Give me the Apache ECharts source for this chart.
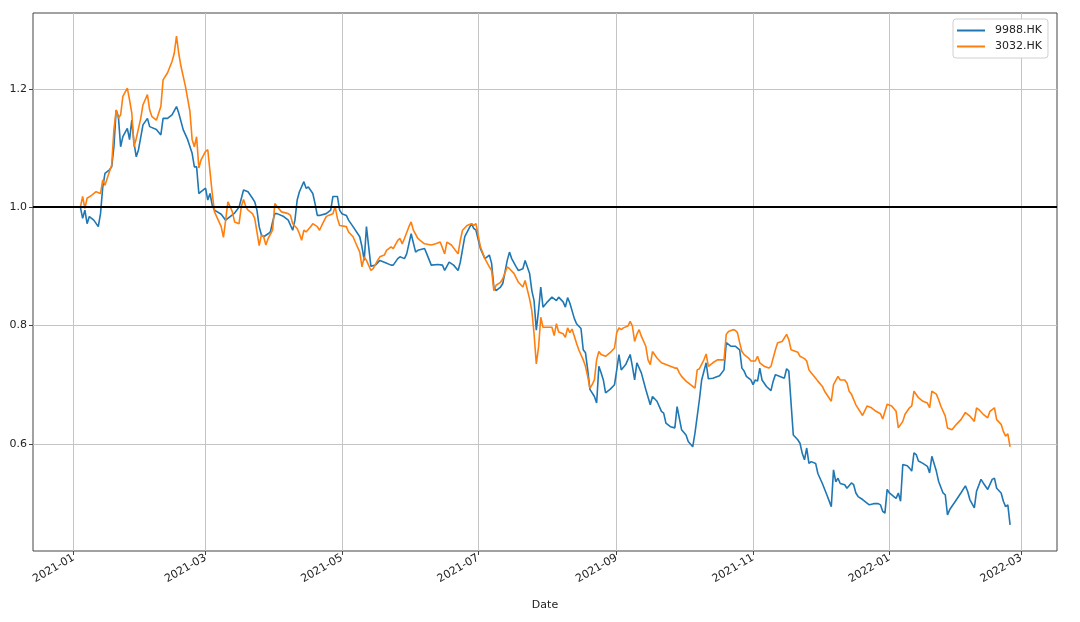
<!DOCTYPE html>
<html><head><meta charset="utf-8">
<script src="https://cdn.jsdelivr.net/npm/echarts@6/dist/echarts.min.js"></script>
<style>html,body{margin:0;padding:0;background:#fff}#c{width:1080px;height:622px}</style>
</head><body><div id="c"></div>
<script>
const seriesNames = ['9988.HK', '3032.HK'];
const xAxisName = 'Date';

const dates9988 = [
'2021-01-04','2021-01-05','2021-01-06','2021-01-07','2021-01-08','2021-01-10','2021-01-12','2021-01-13','2021-01-14','2021-01-15',
'2021-01-17','2021-01-18','2021-01-19','2021-01-20','2021-01-21','2021-01-22','2021-01-23','2021-01-25','2021-01-26','2021-01-27',
'2021-01-28','2021-01-29','2021-01-30','2021-02-01','2021-02-03','2021-02-04','2021-02-07','2021-02-09','2021-02-10','2021-02-12',
'2021-02-14','2021-02-16','2021-02-17','2021-02-19','2021-02-21','2021-02-23','2021-02-24','2021-02-25','2021-02-26','2021-02-27',
'2021-03-01','2021-03-02','2021-03-03','2021-03-04','2021-03-05','2021-03-08','2021-03-10','2021-03-12','2021-03-14','2021-03-16',
'2021-03-18','2021-03-20','2021-03-22','2021-03-23','2021-03-24','2021-03-25','2021-03-26','2021-03-27','2021-03-29','2021-03-30',
'2021-03-31','2021-04-01','2021-04-02','2021-04-05','2021-04-07','2021-04-09','2021-04-10','2021-04-11','2021-04-12','2021-04-14',
'2021-04-15','2021-04-16','2021-04-18','2021-04-19','2021-04-20','2021-04-21','2021-04-24','2021-04-26','2021-04-27','2021-04-29',
'2021-04-30','2021-05-01','2021-05-03','2021-05-04','2021-05-06','2021-05-09','2021-05-10','2021-05-11','2021-05-12','2021-05-13',
'2021-05-14','2021-05-16','2021-05-18','2021-05-20','2021-05-23','2021-05-24','2021-05-26','2021-05-27','2021-05-29','2021-05-30',
'2021-06-01','2021-06-03','2021-06-04','2021-06-07','2021-06-08','2021-06-10','2021-06-13','2021-06-15','2021-06-16','2021-06-18',
'2021-06-20','2021-06-22','2021-06-23','2021-06-25','2021-06-28','2021-06-29','2021-06-30','2021-07-02','2021-07-04','2021-07-06',
'2021-07-07','2021-07-08','2021-07-09','2021-07-11','2021-07-12','2021-07-14','2021-07-15','2021-07-16','2021-07-18','2021-07-19',
'2021-07-21','2021-07-22','2021-07-24','2021-07-25','2021-07-26','2021-07-27','2021-07-28','2021-07-29','2021-07-30','2021-08-01',
'2021-08-03','2021-08-05','2021-08-06','2021-08-08','2021-08-09','2021-08-10','2021-08-11','2021-08-13','2021-08-14','2021-08-16',
'2021-08-17','2021-08-18','2021-08-19','2021-08-20','2021-08-22','2021-08-23','2021-08-24','2021-08-25','2021-08-26','2021-08-27',
'2021-08-29','2021-08-31','2021-09-01','2021-09-02','2021-09-03','2021-09-05','2021-09-07','2021-09-08','2021-09-09','2021-09-10',
'2021-09-12','2021-09-14','2021-09-16','2021-09-17','2021-09-19','2021-09-21','2021-09-22','2021-09-23','2021-09-25','2021-09-27',
'2021-09-28','2021-09-30','2021-10-02','2021-10-03','2021-10-05','2021-10-06','2021-10-08','2021-10-09','2021-10-11','2021-10-12',
'2021-10-14','2021-10-17','2021-10-19','2021-10-20','2021-10-22','2021-10-24','2021-10-26','2021-10-27','2021-10-28','2021-10-29',
'2021-10-31','2021-11-01','2021-11-02','2021-11-03','2021-11-04','2021-11-05','2021-11-07','2021-11-09','2021-11-10','2021-11-11',
'2021-11-13','2021-11-15','2021-11-16','2021-11-17','2021-11-19','2021-11-21','2021-11-22','2021-11-23','2021-11-24','2021-11-25',
'2021-11-26','2021-11-27','2021-11-29','2021-11-30','2021-12-02','2021-12-04','2021-12-06','2021-12-07','2021-12-08','2021-12-09',
'2021-12-10','2021-12-12','2021-12-13','2021-12-15','2021-12-16','2021-12-17','2021-12-18','2021-12-20','2021-12-21','2021-12-23',
'2021-12-25','2021-12-27','2021-12-28','2021-12-29','2021-12-30','2021-12-31','2022-01-01','2022-01-03','2022-01-04','2022-01-05',
'2022-01-06','2022-01-07','2022-01-09','2022-01-10','2022-01-11','2022-01-12','2022-01-13','2022-01-14','2022-01-16','2022-01-18',
'2022-01-19','2022-01-20','2022-01-22','2022-01-23','2022-01-25','2022-01-26','2022-01-27','2022-01-28','2022-01-30','2022-02-02',
'2022-02-04','2022-02-05','2022-02-06','2022-02-08','2022-02-09','2022-02-11','2022-02-12','2022-02-14','2022-02-16','2022-02-17',
'2022-02-18','2022-02-20','2022-02-21','2022-02-22','2022-02-23','2022-02-24'
];
const vals9988 = [
1.000,0.981,0.995,0.972,0.984,0.978,0.967,0.989,1.034,1.057,
1.063,1.068,1.102,1.164,1.153,1.102,1.119,1.133,1.114,1.147,
1.108,1.085,1.097,1.139,1.150,1.136,1.131,1.122,1.150,1.150,
1.156,1.170,1.159,1.131,1.114,1.091,1.068,1.068,1.023,1.026,
1.032,1.012,1.023,1.003,0.995,0.988,0.978,0.984,0.990,1.000,
1.029,1.026,1.015,1.009,0.995,0.967,0.953,0.950,0.955,0.958,
0.975,0.989,0.989,0.984,0.978,0.961,0.978,1.012,1.026,1.043,
1.032,1.034,1.023,1.006,0.986,0.986,0.989,0.995,1.018,1.018,
0.995,0.989,0.986,0.978,0.967,0.950,0.933,0.910,0.967,0.933,
0.900,0.902,0.910,0.907,0.902,0.902,0.913,0.916,0.913,0.921,
0.955,0.924,0.927,0.930,0.921,0.902,0.903,0.902,0.893,0.907,
0.902,0.893,0.907,0.950,0.972,0.964,0.961,0.930,0.913,0.919,
0.905,0.865,0.859,0.865,0.871,0.910,0.924,0.913,0.899,0.893,
0.896,0.910,0.888,0.859,0.842,0.792,0.825,0.865,0.831,0.840,
0.848,0.842,0.848,0.840,0.831,0.847,0.838,0.812,0.803,0.795,
0.759,0.754,0.725,0.692,0.680,0.669,0.731,0.720,0.708,0.686,
0.692,0.700,0.725,0.751,0.725,0.734,0.751,0.731,0.708,0.737,
0.720,0.692,0.666,0.680,0.672,0.655,0.652,0.635,0.629,0.627,
0.663,0.624,0.615,0.604,0.595,0.618,0.675,0.708,0.737,0.710,
0.711,0.715,0.725,0.771,0.765,0.765,0.759,0.728,0.723,0.714,
0.708,0.700,0.708,0.706,0.728,0.708,0.697,0.690,0.706,0.717,
0.714,0.711,0.727,0.723,0.615,0.607,0.601,0.584,0.573,0.593,
0.567,0.570,0.567,0.550,0.533,0.514,0.494,0.556,0.536,0.542,
0.533,0.531,0.525,0.534,0.531,0.517,0.511,0.506,0.503,0.497,
0.499,0.499,0.497,0.486,0.483,0.523,0.517,0.511,0.508,0.517,
0.503,0.565,0.563,0.559,0.554,0.585,0.582,0.571,0.567,0.562,
0.551,0.579,0.554,0.537,0.517,0.514,0.480,0.489,0.500,0.517,
0.529,0.520,0.506,0.492,0.520,0.540,0.534,0.523,0.540,0.542,
0.525,0.517,0.503,0.494,0.497,0.463
];

const dates3032 = [
'2021-01-04','2021-01-05','2021-01-06','2021-01-07','2021-01-09','2021-01-11','2021-01-13','2021-01-14','2021-01-15','2021-01-17',
'2021-01-18','2021-01-19','2021-01-20','2021-01-21','2021-01-22','2021-01-23','2021-01-25','2021-01-26','2021-01-27','2021-01-28',
'2021-01-29','2021-01-31','2021-02-01','2021-02-03','2021-02-04','2021-02-05','2021-02-07','2021-02-09','2021-02-10','2021-02-12',
'2021-02-14','2021-02-15','2021-02-16','2021-02-17','2021-02-18','2021-02-20','2021-02-22','2021-02-23','2021-02-24','2021-02-25',
'2021-02-26','2021-02-27','2021-03-01','2021-03-02','2021-03-03','2021-03-04','2021-03-05','2021-03-08','2021-03-09','2021-03-10',
'2021-03-11','2021-03-12','2021-03-13','2021-03-14','2021-03-16','2021-03-17','2021-03-18','2021-03-19','2021-03-20','2021-03-22',
'2021-03-23','2021-03-25','2021-03-26','2021-03-27','2021-03-28','2021-03-29','2021-03-31','2021-04-01','2021-04-02','2021-04-04',
'2021-04-07','2021-04-08','2021-04-09','2021-04-11','2021-04-12','2021-04-13','2021-04-14','2021-04-15','2021-04-17','2021-04-18',
'2021-04-20','2021-04-21','2021-04-22','2021-04-24','2021-04-25','2021-04-27','2021-04-28','2021-04-29','2021-04-30','2021-05-03',
'2021-05-04','2021-05-06','2021-05-07','2021-05-09','2021-05-10','2021-05-11','2021-05-12','2021-05-14','2021-05-15','2021-05-17',
'2021-05-18','2021-05-20','2021-05-21','2021-05-23','2021-05-24','2021-05-26','2021-05-27','2021-05-28','2021-05-29','2021-05-31',
'2021-06-01','2021-06-02','2021-06-04','2021-06-05','2021-06-07','2021-06-10','2021-06-12','2021-06-14','2021-06-16','2021-06-17',
'2021-06-19','2021-06-22','2021-06-23','2021-06-24','2021-06-26','2021-06-28','2021-06-29','2021-06-30','2021-07-02','2021-07-04',
'2021-07-06','2021-07-07','2021-07-08','2021-07-09','2021-07-11','2021-07-12','2021-07-14','2021-07-15','2021-07-17','2021-07-19',
'2021-07-21','2021-07-22','2021-07-24','2021-07-25','2021-07-26','2021-07-27','2021-07-28','2021-07-29','2021-07-30','2021-08-01',
'2021-08-03','2021-08-04','2021-08-05','2021-08-06','2021-08-08','2021-08-09','2021-08-10','2021-08-11','2021-08-12','2021-08-14',
'2021-08-15','2021-08-17','2021-08-18','2021-08-19','2021-08-20','2021-08-21','2021-08-22','2021-08-23','2021-08-24','2021-08-25',
'2021-08-27','2021-08-29','2021-08-31','2021-09-01','2021-09-02','2021-09-03','2021-09-04','2021-09-06','2021-09-07','2021-09-08',
'2021-09-09','2021-09-10','2021-09-11','2021-09-12','2021-09-14','2021-09-15','2021-09-16','2021-09-17','2021-09-19','2021-09-21',
'2021-09-23','2021-09-25','2021-09-27','2021-09-28','2021-09-29','2021-09-30','2021-10-02','2021-10-04','2021-10-06','2021-10-07',
'2021-10-08','2021-10-10','2021-10-11','2021-10-12','2021-10-14','2021-10-16','2021-10-19','2021-10-20','2021-10-21','2021-10-23',
'2021-10-24','2021-10-25','2021-10-26','2021-10-27','2021-10-28','2021-10-30','2021-10-31','2021-11-02','2021-11-03','2021-11-04',
'2021-11-06','2021-11-08','2021-11-09','2021-11-11','2021-11-12','2021-11-14','2021-11-16','2021-11-17','2021-11-18','2021-11-21',
'2021-11-22','2021-11-24','2021-11-25','2021-11-26','2021-11-27','2021-11-29','2021-11-30','2021-12-02','2021-12-03','2021-12-06',
'2021-12-07','2021-12-09','2021-12-10','2021-12-12','2021-12-13','2021-12-14','2021-12-15','2021-12-17','2021-12-20','2021-12-22',
'2021-12-24','2021-12-26','2021-12-28','2021-12-29','2021-12-31','2022-01-02','2022-01-04','2022-01-05','2022-01-07','2022-01-08',
'2022-01-10','2022-01-11','2022-01-12','2022-01-14','2022-01-16','2022-01-18','2022-01-19','2022-01-20','2022-01-22','2022-01-23',
'2022-01-24','2022-01-26','2022-01-27','2022-01-29','2022-01-31','2022-02-02','2022-02-04','2022-02-06','2022-02-08','2022-02-09',
'2022-02-10','2022-02-12','2022-02-14','2022-02-15','2022-02-17','2022-02-18','2022-02-20','2022-02-21','2022-02-22','2022-02-23',
'2022-02-24'
];
const vals3032 = [
1.000,1.018,0.998,1.015,1.020,1.026,1.023,1.046,1.037,1.060,
1.071,1.131,1.164,1.150,1.156,1.187,1.201,1.181,1.159,1.102,
1.116,1.150,1.173,1.190,1.164,1.153,1.147,1.170,1.215,1.227,
1.246,1.260,1.289,1.260,1.238,1.204,1.162,1.114,1.102,1.119,
1.066,1.080,1.094,1.097,1.060,1.023,0.992,0.967,0.949,0.978,
1.009,1.001,0.992,0.975,0.972,1.001,1.013,1.001,0.995,0.989,
0.981,0.935,0.953,0.950,0.936,0.947,0.961,1.006,1.001,0.992,
0.989,0.986,0.972,0.964,0.955,0.944,0.961,0.958,0.967,0.972,
0.967,0.961,0.969,0.984,0.986,0.989,1.001,0.981,0.969,0.967,
0.958,0.950,0.941,0.924,0.899,0.916,0.910,0.893,0.896,0.910,
0.916,0.919,0.927,0.933,0.930,0.944,0.947,0.938,0.947,0.967,
0.975,0.961,0.947,0.944,0.938,0.936,0.938,0.941,0.921,0.941,
0.936,0.921,0.944,0.961,0.969,0.972,0.969,0.972,0.933,0.913,
0.899,0.893,0.859,0.868,0.873,0.879,0.899,0.896,0.888,0.873,
0.865,0.876,0.845,0.825,0.786,0.735,0.763,0.814,0.797,0.797,
0.797,0.783,0.803,0.789,0.786,0.780,0.796,0.788,0.794,0.770,
0.759,0.742,0.731,0.714,0.694,0.700,0.708,0.742,0.756,0.751,
0.748,0.754,0.762,0.788,0.796,0.793,0.796,0.799,0.807,0.799,
0.773,0.785,0.793,0.782,0.765,0.742,0.734,0.756,0.745,0.737,
0.734,0.731,0.728,0.728,0.720,0.714,0.706,0.700,0.694,0.725,
0.727,0.742,0.752,0.731,0.737,0.742,0.742,0.785,0.790,0.793,
0.792,0.788,0.771,0.756,0.751,0.745,0.740,0.740,0.748,0.737,
0.731,0.728,0.731,0.759,0.771,0.773,0.785,0.776,0.759,0.755,
0.748,0.744,0.740,0.725,0.720,0.711,0.706,0.697,0.689,0.672,
0.700,0.714,0.708,0.708,0.703,0.689,0.684,0.666,0.648,0.664,
0.661,0.655,0.651,0.642,0.667,0.664,0.655,0.627,0.638,0.650,
0.661,0.664,0.689,0.678,0.672,0.669,0.661,0.689,0.684,0.675,
0.664,0.647,0.627,0.624,0.633,0.641,0.653,0.647,0.638,0.661,
0.658,0.650,0.644,0.655,0.661,0.641,0.633,0.621,0.613,0.617,
0.595
];

const xTickDates = ['2021-01-01','2021-03-01','2021-05-01','2021-07-01','2021-09-01','2021-11-01','2022-01-01','2022-03-01'];
const xRange = ['2020-12-13T19:00:00', '2022-03-17T00:00:00'];
const yTicks = [0.6, 0.8, 1.0, 1.2];
const yRange = [0.419, 1.328];
const refLevel = 1.0;

const colors = ['#1f77b4', '#ff7f0e'];
const ts = s => echarts.time.parse(s).getTime();
const pair = (d, v) => d.map((s, i) => [ts(s), v[i]]);
const pad2 = n => (n < 10 ? '0' : '') + n;
const tickVals = xTickDates.map(ts);
const font = 'DejaVu Sans';

const chart = echarts.init(document.getElementById('c'), null, {renderer: 'canvas'});
chart.setOption({
  animation: false,
  backgroundColor: '#fff',
  grid: {left: 33, right: 23, top: 13, bottom: 71, show: true, borderColor: '#444', borderWidth: 1, backgroundColor: 'transparent'},
  legend: {
    data: seriesNames, orient: 'vertical', left: 953, top: 19,
    padding: [6, 6, 6, 4], itemGap: 5, itemWidth: 28, itemHeight: 2,
    icon: 'rect', backgroundColor: '#fff', borderColor: '#d0d0d0', borderWidth: 1, borderRadius: 3,
    textStyle: {fontFamily: font, fontSize: 11, color: '#222', padding: [0, 0, 0, 5]}
  },
  xAxis: {
    type: 'value', min: ts(xRange[0]), max: ts(xRange[1]),
    name: xAxisName, nameLocation: 'middle', nameGap: 49,
    nameTextStyle: {fontFamily: font, fontSize: 11, color: '#222'},
    axisLine: {show: false},
    axisTick: {show: true, customValues: tickVals, length: 4, lineStyle: {color: '#444'}},
    axisLabel: {
      customValues: tickVals, rotate: 30, margin: 6,
      fontFamily: font, fontSize: 11, color: '#222',
      formatter: v => { const d = new Date(v); return d.getFullYear() + '-' + pad2(d.getMonth() + 1); }
    },
    splitLine: {show: true, lineStyle: {color: '#c4c4c4', width: 1}}
  },
  yAxis: {
    type: 'value', min: yRange[0], max: yRange[1],
    axisLine: {show: false},
    axisTick: {show: true, customValues: yTicks, length: 4, lineStyle: {color: '#444'}},
    axisLabel: {customValues: yTicks, margin: 6, fontFamily: font, fontSize: 11, color: '#222', formatter: v => v.toFixed(1)},
    splitLine: {show: true, lineStyle: {color: '#c4c4c4', width: 1}}
  },
  series: [
    {name: seriesNames[0], type: 'line', data: pair(dates9988, vals9988), showSymbol: false, symbol: 'none',
     lineStyle: {color: colors[0], width: 1.6}, itemStyle: {color: colors[0]}, z: 3},
    {name: seriesNames[1], type: 'line', data: pair(dates3032, vals3032), showSymbol: false, symbol: 'none',
     lineStyle: {color: colors[1], width: 1.6}, itemStyle: {color: colors[1]}, z: 4,
     markLine: {silent: true, symbol: ['none', 'none'], label: {show: false},
       lineStyle: {color: '#000', width: 2, type: 'solid'}, data: [{yAxis: refLevel}]}}
  ]
});
</script></body></html>
